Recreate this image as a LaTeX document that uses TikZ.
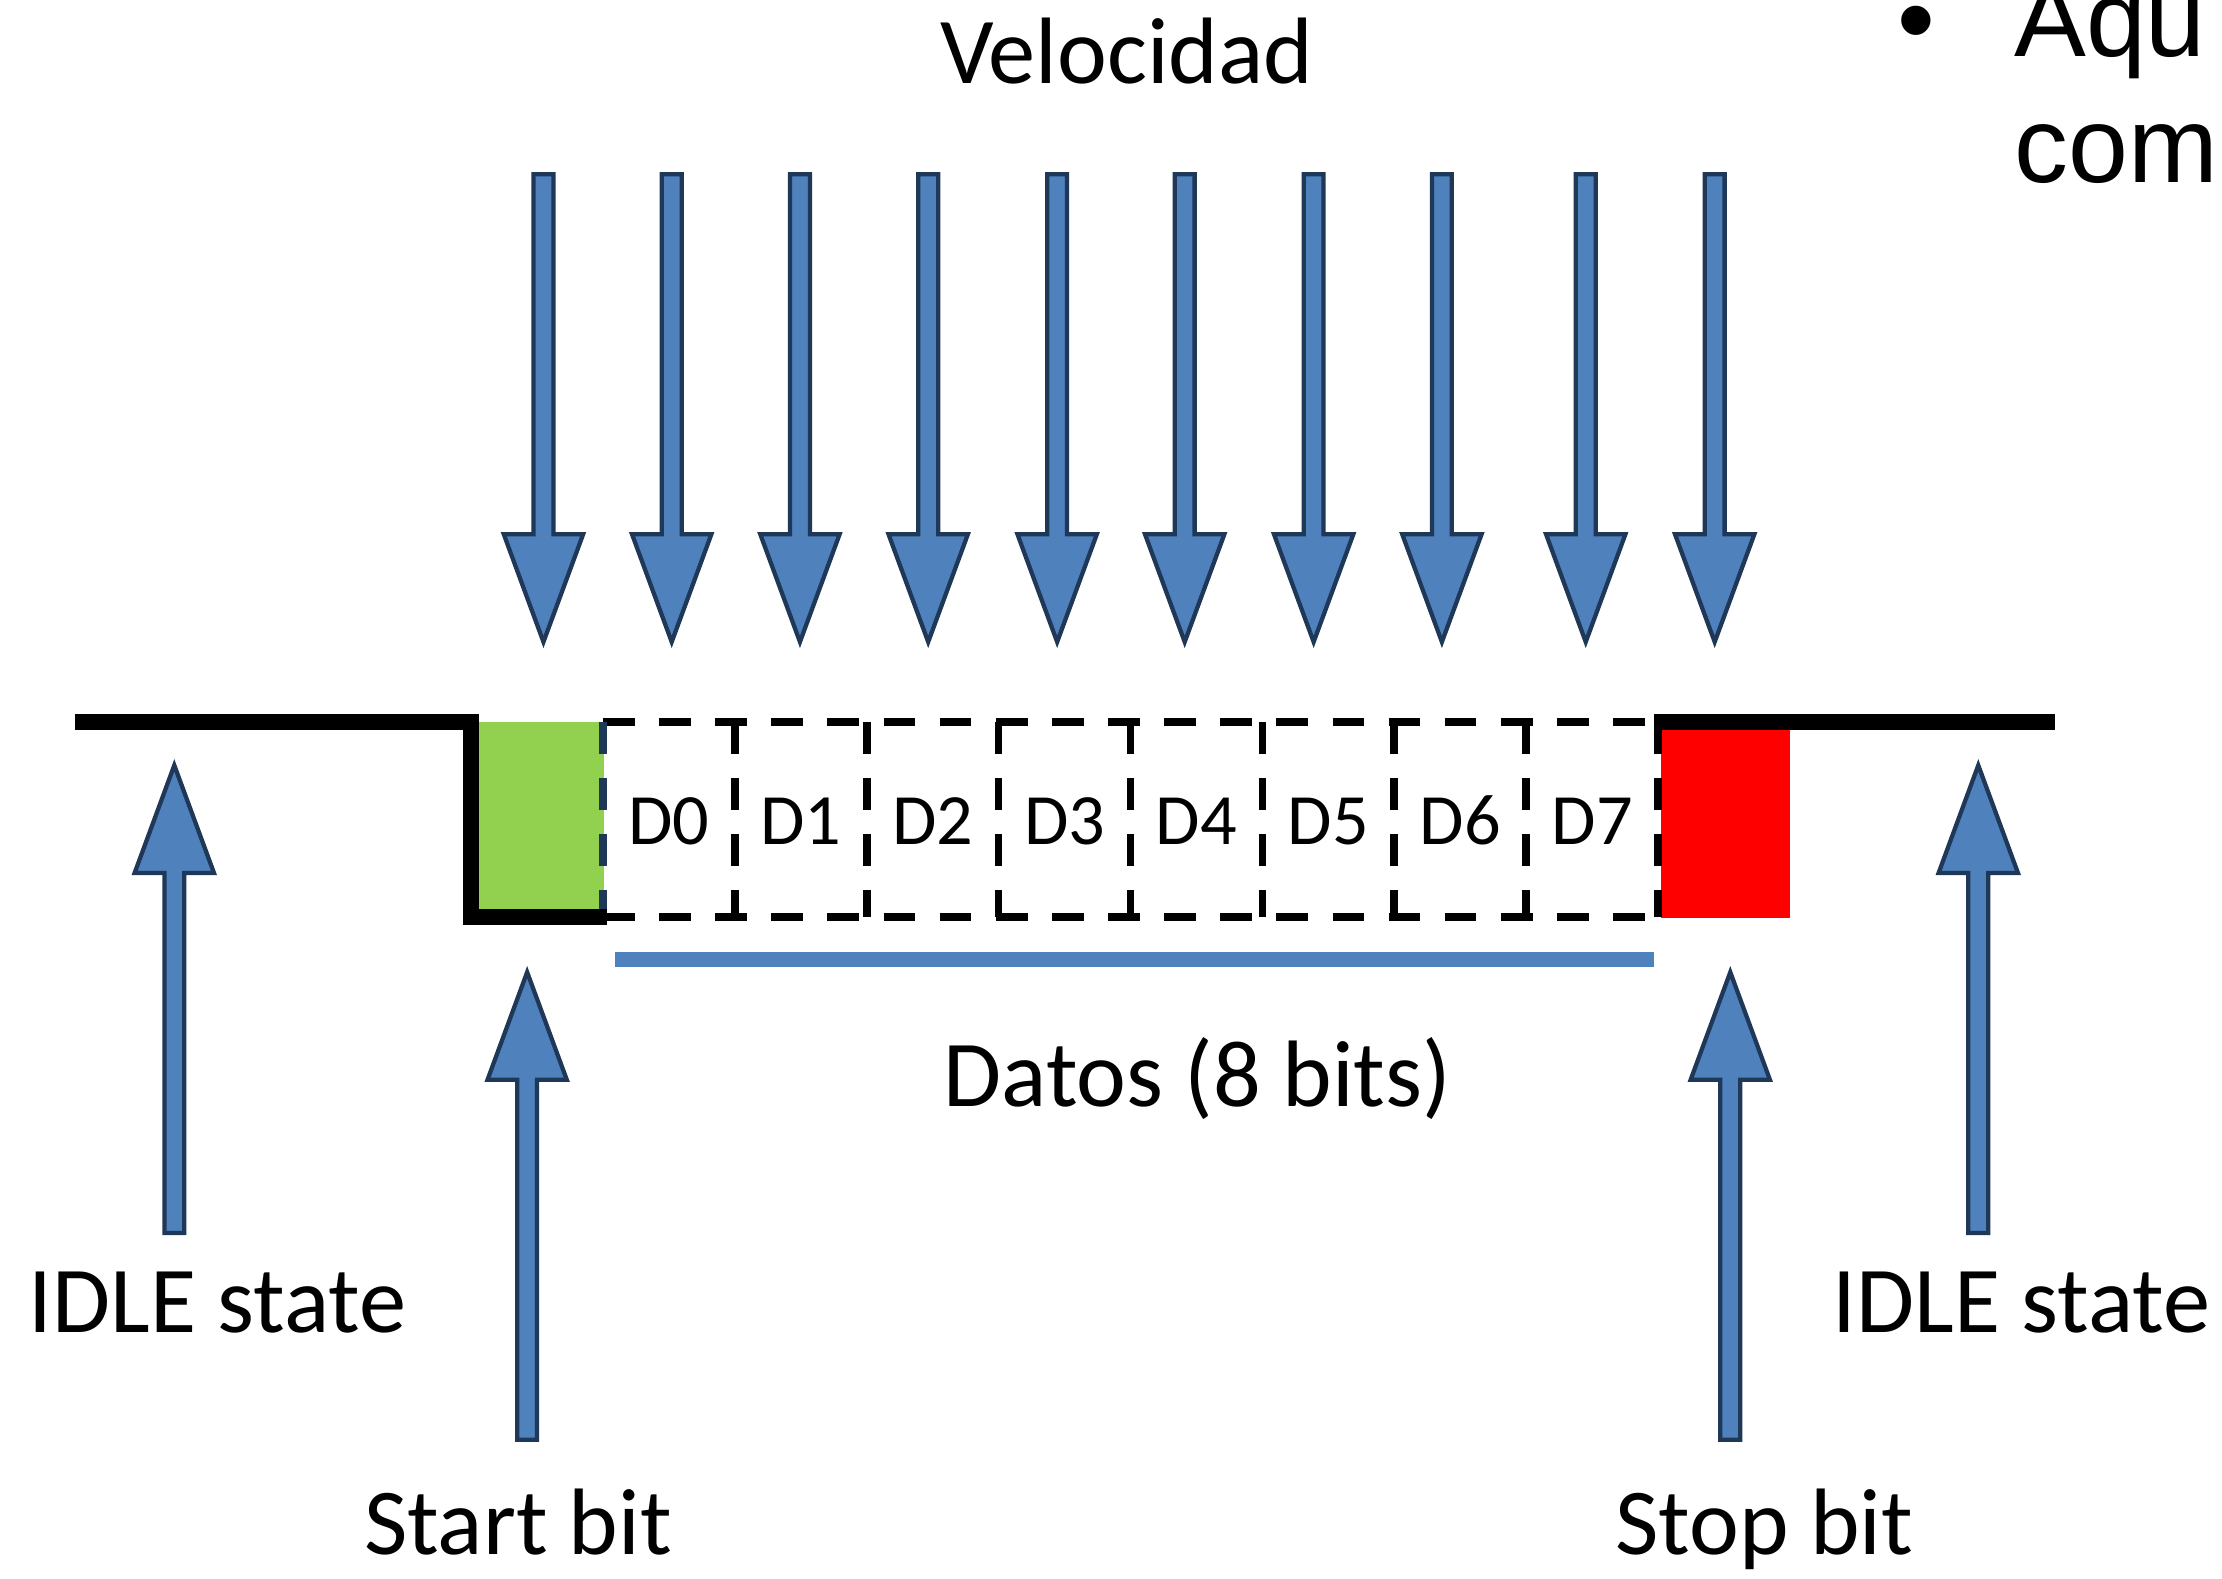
\documentclass[tikz,border=0pt]{standalone}
\usepackage{fontspec}
\setmainfont{Carlito}
\newfontfamily\arialf{Liberation Sans}
\definecolor{arrfill}{HTML}{4F81BD}
\definecolor{arrline}{HTML}{1F3858}
\definecolor{startgreen}{HTML}{92D050}
\definecolor{stopred}{HTML}{FF0000}
\begin{document}
\begin{tikzpicture}[x=0.5pt,y=-0.5pt,
  blockarr/.style={fill=arrfill,draw=arrline,line width=1.5pt,line join=miter},
  sig/.style={draw=black,line width=5.5pt,line join=miter},
  dashbox/.style={draw=black,line width=2.7pt,dash pattern=on 11.2pt off 8.6pt},
  lbl/.style={font=\fontsize{33.3}{40}\selectfont,anchor=base,inner sep=0pt},
  dlbl/.style={font=\fontsize{25.5}{30}\selectfont,anchor=base,inner sep=0pt},
  bigtxt/.style={font=\arialf\fontsize{38}{46}\selectfont,inner sep=0pt},
  downarr/.pic={\path[blockarr] (-7,0) -- (7,0) -- (7,254) -- (28,254) -- (0,330) -- (-28,254) -- (-7,254) -- cycle;},
  uparr/.pic={\path[blockarr] (0,0) -- (28,76) -- (7,76) -- (7,330) -- (-7,330) -- (-7,76) -- (-28,76) -- cycle;}
]
\useasboundingbox (0,0) rectangle (1568,1114);
\clip (0,0) rectangle (1568,1114);
\fill[white] (0,0) rectangle (1568,1114);

% top text
\node[lbl] (vel) at (795,59) {Velocidad};
\node[bigtxt,anchor=base] (bul) at (1352,40) {•};
\node[bigtxt,anchor=base west] (aqu) at (1421,40) {Aqu};
\node[bigtxt,anchor=base west] (com) at (1421,129) {com};

% sampling arrows
\foreach \xx in {383.5,474,564.5,655,746,836,927,1017.5,1119,1210}
  \pic at (\xx,123) {downarr};

% start and stop bit fills
\fill[startgreen] (338,509.5) rectangle (426,642);
\fill[stopred] (1172,515) rectangle (1263,648);

% data bit boxes
\draw[dashbox] (425.5,509.5) -- (1170,509.5);
\draw[dashbox] (425.5,647) -- (1170,647);
\draw[dashbox,draw=arrline] (425.5,509.5) -- (425.5,647);
\foreach \i in {1,...,8}
  \draw[dashbox] ({425.5+93.07*\i},509.5) -- ({425.5+93.07*\i},647);
\foreach \i in {0,...,7}
  \node[dlbl] (d\i) at ({425.5+93.07*(\i+0.5)},596) {D\i};

% signal line
\draw[sig] (53,509.5) -- (332.5,509.5) -- (332.5,647) -- (428,647);
\draw[sig] (1167,509.5) -- (1450,509.5);

% data underline
\draw[draw=arrfill,line width=5.5pt] (434,677) -- (1167,677);
\node[lbl] (datos) at (845,781) {Datos (8 bits)};

% bottom arrows
\pic at (123,540) {uparr};
\pic at (1396,540) {uparr};
\pic at (372,686) {uparr};
\pic at (1221,686) {uparr};

\node[lbl] (idleL) at (153.5,940) {IDLE state};
\node[lbl] (idleR) at (1426.5,940) {IDLE state};
\node[lbl] (start) at (365.5,1097) {Start bit};
\node[lbl] (stop) at (1245,1097) {Stop bit};
\end{tikzpicture}
\end{document}
